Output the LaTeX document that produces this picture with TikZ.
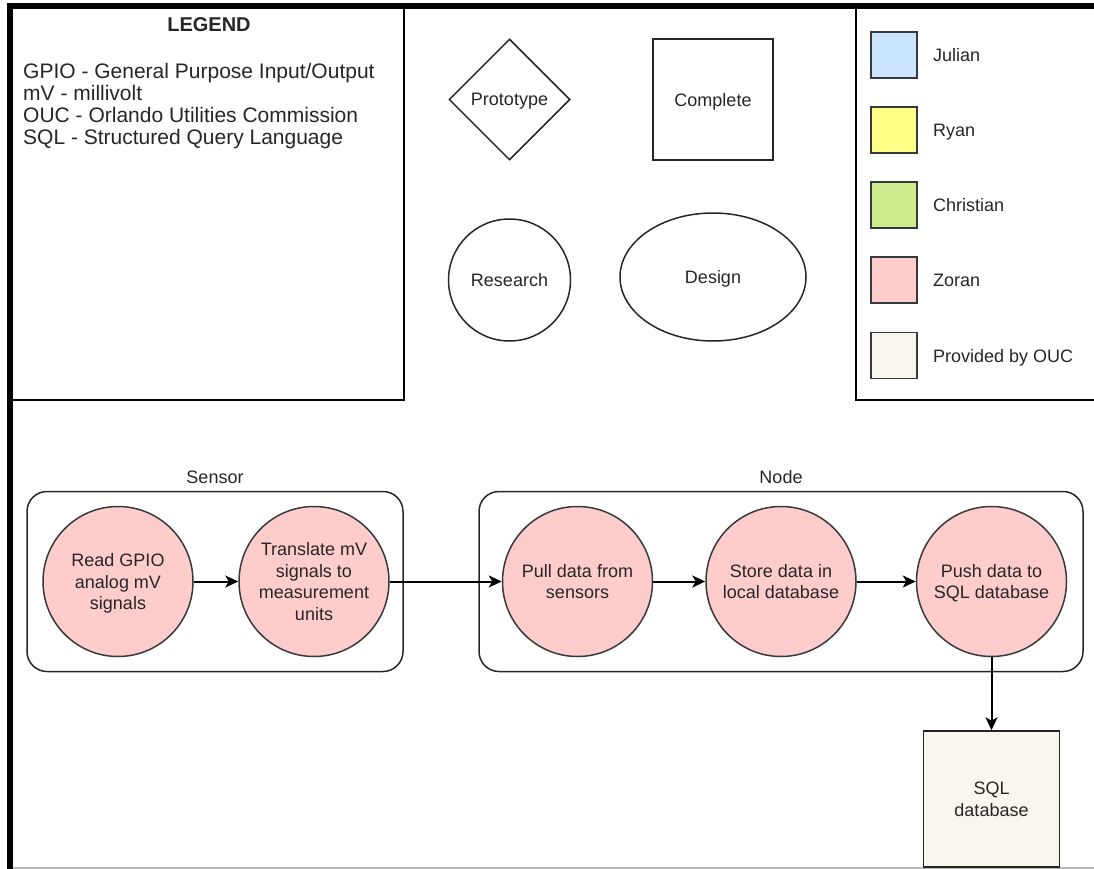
\documentclass[tikz,border=0pt]{standalone}
\usepackage{fontspec}
\setmainfont{Liberation Sans}
\usetikzlibrary{shapes.geometric,arrows.meta}
\definecolor{edgegray}{HTML}{36393D}
\definecolor{julianfill}{HTML}{CCE5FF}
\definecolor{ryanfill}{HTML}{FFFF88}
\definecolor{christianfill}{HTML}{CDEB8B}
\definecolor{zoranfill}{HTML}{FFCCCC}
\definecolor{oucfill}{HTML}{F9F7ED}
\definecolor{txt}{HTML}{262626}

\begin{document}
\begin{tikzpicture}[x=1pt,y=-1pt,
  every node/.style={font=\fontsize{18pt}{21.6pt}\selectfont, text=txt, inner sep=0pt,
                     text depth=0pt},
  task/.style={circle, draw=edgegray, fill=zoranfill, line width=1.5pt,
               minimum size=150pt, align=center},
  grp/.style={rectangle, draw=black!85, line width=1.5pt, rounded corners=20pt,
              minimum height=180pt},
  swatch/.style={rectangle, draw=edgegray, line width=1.5pt, minimum size=46pt},
  keylabel/.style={anchor=base west},
  shapekey/.style={draw=black!85, line width=1.5pt},
  flow/.style={-{Stealth[length=13pt,width=12pt,inset=3.5pt]}, line width=2pt, black},
  legendline/.style={anchor=base west, font=\fontsize{21pt}{22pt}\selectfont}
]
\useasboundingbox (0,0) rectangle (1094,869);

% outer frame and bottom rule
\draw[gray!55, line width=1.5pt] (13,868) -- (1094,868);
\draw[line width=6pt] (10,880) -- (10,6) -- (1100,6);

% abbreviation legend
\draw[line width=2pt] (10,6) rectangle (404,400);
\node[font=\bfseries\fontsize{20pt}{24pt}\selectfont] (legendtitle) at (209,25) {LEGEND};
\node[legendline] (abbr1) at (23,79)  {GPIO - General Purpose Input/Output};
\node[legendline] (abbr2) at (23,101) {mV - millivolt};
\node[legendline] (abbr3) at (23,123) {OUC - Orlando Utilities Commission};
\node[legendline] (abbr4) at (23,145) {SQL - Structured Query Language};

% stage shapes
\node[diamond, shapekey, aspect=1, minimum width=121pt, minimum height=121pt] (proto) at (509.5,99.5) {Prototype};
\node[rectangle, shapekey, minimum width=120pt, minimum height=121pt] (complete) at (713,99.5) {Complete};
\node[circle, shapekey, minimum size=122pt] (research) at (509.5,280) {Research};
\node[ellipse, shapekey, minimum width=186pt, minimum height=128pt] (design) at (713,277) {Design};

% colour key
\draw[line width=2pt] (856,6) rectangle (1100,400);
\node[swatch, fill=julianfill]    (sjulian)    at (894,55)  {};
\node[swatch, fill=ryanfill]      (sryan)      at (894,130) {};
\node[swatch, fill=christianfill] (schristian) at (894,205) {};
\node[swatch, fill=zoranfill]     (szoran)     at (894,280) {};
\node[swatch, fill=oucfill]       (souc)       at (894,355.5) {};
\node[keylabel] (ljulian)    at (933,61.5)  {Julian};
\node[keylabel] (lryan)      at (933,136.5) {Ryan};
\node[keylabel] (lchristian) at (933,211.5) {Christian};
\node[keylabel] (lzoran)     at (933,286.5) {Zoran};
\node[keylabel] (louc)       at (933,362)   {Provided by OUC};

% groups
\node[grp, minimum width=376pt] (sensorgrp) at (215,581.5) {};
\node (sensorlbl) at (215,477) {Sensor};
\node[grp, minimum width=604pt] (nodegrp) at (781,581.5) {};
\node (nodelbl) at (781,477) {Node};

% process steps
\node[task] (read)      at (118,581.5)   {Read GPIO\\analog mV\\signals};
\node[task] (translate) at (314,581.5)   {Translate mV\\signals to\\measurement\\units};
\node[task] (pull)      at (577.5,581.5) {Pull data from\\sensors};
\node[task] (store)     at (781,581.5)   {Store data in\\local database};
\node[task] (push)      at (991.5,581.5) {Push data to\\SQL database};
\node[rectangle, draw=black!85, fill=oucfill, line width=1.5pt, minimum size=136pt,
      align=center] (sqldb) at (991.5,799) {SQL\\database};

% data flow
\draw[flow] (read) -- (translate);
\draw[flow] (translate) -- (pull);
\draw[flow] (pull) -- (store);
\draw[flow] (store) -- (push);
\draw[flow] (push) -- (sqldb);
\end{tikzpicture}
\end{document}
